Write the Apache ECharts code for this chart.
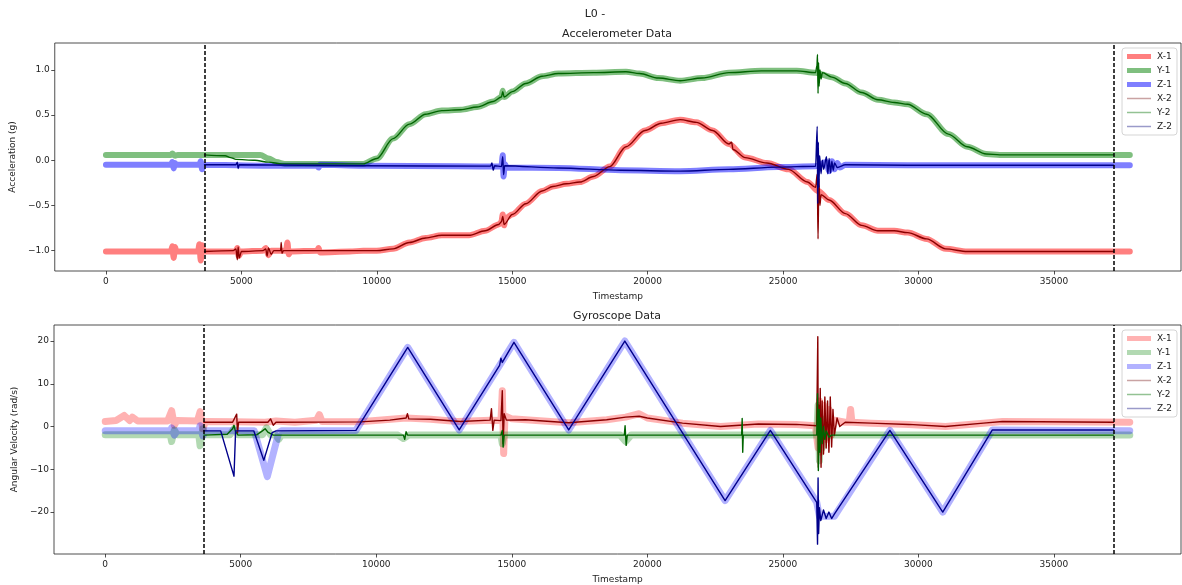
<!DOCTYPE html>
<html><head><meta charset="utf-8">
<script src="https://cdn.jsdelivr.net/npm/echarts@6/dist/echarts.min.js"></script>
<style>html,body{margin:0;padding:0;background:#fff}#c{width:1182px;height:585px}</style>
</head><body><div id="c"></div>
<script>
// ---------- tick labels / markers ----------
const xTicks = [0, 5000, 10000, 15000, 20000, 25000, 30000, 35000];
const accTicks = [-1.0, -0.5, 0.0, 0.5, 1.0];
const gyroTicks = [-20, -10, 0, 10, 20];
const markers = [3640, 37200];
const seriesNames = ['X-1', 'Y-1', 'Z-1', 'X-2', 'Y-2', 'Z-2'];

// ---------- accelerometer (g) ----------
const accX1 = [[0,-1.01],[1200,-1.01],[2400,-1.01],[2450,-0.95],[2500,-1.08],[2550,-0.96],[2600,-1.01],[3400,-1.01],[3450,-0.93],[3500,-1.11],[3550,-0.94],[3600,-1.01],[4800,-1.01],[4850,-0.97],[4900,-1.06],[5000,-1.01],[5800,-1.0],[5900,-0.97],[6000,-1.05],[6100,-1.0],[6650,-1.0],[6700,-0.91],[6750,-1.04],[6800,-1.01],[7800,-1.0],[7850,-0.97],[7900,-1.02],[9000,-1.01],[9500,-1.0],[10000,-1.0],[10600,-0.98],[11200,-0.91],[11800,-0.86],[12400,-0.83],[13400,-0.83],[14000,-0.78],[14500,-0.71],[14600,-0.68],[14650,-0.6],[14700,-0.72],[14750,-0.64],[15000,-0.6],[15500,-0.48],[16100,-0.34],[16500,-0.29],[17000,-0.26],[17500,-0.24],[18000,-0.18],[18600,-0.07],[19200,0.15],[19900,0.33],[20500,0.41],[21200,0.45],[21800,0.42],[22400,0.33],[23000,0.18],[23600,0.03],[24400,-0.03],[25200,-0.1],[25900,-0.24],[26300,-0.34],[26700,-0.44],[27300,-0.59],[27900,-0.72],[28500,-0.78],[29100,-0.78],[29600,-0.8],[30300,-0.87],[31000,-0.98],[31800,-1.01],[37800,-1.01]];
const accY1 = [[0,0.06],[2400,0.06],[2450,0.075],[2550,0.05],[2650,0.06],[3500,0.06],[5700,0.06],[6000,0.02],[6300,-0.02],[6600,-0.04],[9500,-0.04],[10000,0.02],[10600,0.24],[11200,0.40],[11800,0.51],[12400,0.55],[13100,0.56],[13700,0.59],[14300,0.65],[14600,0.7],[14650,0.77],[14700,0.7],[15000,0.76],[15500,0.85],[16100,0.93],[16700,0.96],[18000,0.97],[19200,0.98],[19700,0.96],[20400,0.91],[21200,0.88],[22000,0.91],[23000,0.97],[24200,0.99],[25500,0.99],[26200,0.97],[26800,0.92],[27300,0.85],[27900,0.75],[28500,0.67],[29100,0.64],[29600,0.62],[30300,0.51],[31100,0.29],[31800,0.15],[32500,0.07],[33000,0.06],[37800,0.06]];
const accZ1 = [[0,-0.05],[2400,-0.05],[2450,-0.02],[2500,-0.09],[2550,-0.03],[2600,-0.05],[3450,-0.05],[3500,-0.01],[3550,-0.1],[3600,-0.05],[6000,-0.06],[7800,-0.06],[7850,-0.08],[7900,-0.05],[9500,-0.06],[13000,-0.066],[14600,-0.07],[14650,0.055],[14680,-0.18],[14720,-0.04],[14800,-0.08],[16700,-0.085],[19000,-0.11],[21200,-0.12],[23000,-0.1],[24800,-0.075],[26200,-0.066],[26600,-0.02],[26700,-0.12],[26800,-0.01],[26900,-0.1],[27000,-0.03],[27100,-0.08],[27300,-0.05],[29600,-0.055],[37800,-0.055]];
const accX2 = [[3640,-1.01],[4700,-1.0],[4800,-0.98],[4850,-1.1],[4880,-0.96],[4920,-1.08],[5000,-1.01],[5800,-1.0],[5900,-0.98],[5950,-1.06],[6000,-0.97],[6100,-1.04],[6200,-1.0],[6450,-1.0],[6470,-0.91],[6500,-1.03],[6550,-1.0],[9500,-1.0],[10000,-1.0],[10600,-0.98],[11200,-0.91],[11800,-0.86],[12400,-0.83],[13400,-0.83],[14000,-0.78],[14500,-0.71],[14600,-0.68],[14650,-0.62],[14700,-0.71],[15000,-0.6],[15500,-0.48],[16100,-0.34],[16500,-0.29],[17000,-0.26],[17500,-0.24],[18000,-0.18],[18600,-0.07],[19200,0.15],[19900,0.33],[20500,0.41],[21200,0.45],[21800,0.42],[22400,0.33],[23000,0.18],[23100,0.2],[23150,0.12],[23600,0.03],[24400,-0.03],[25200,-0.1],[25900,-0.24],[26200,-0.3],[26260,-0.15],[26290,-0.87],[26320,-0.2],[26360,-0.5],[26400,-0.38],[26700,-0.44],[27300,-0.59],[27900,-0.72],[28500,-0.78],[29100,-0.78],[29600,-0.8],[30300,-0.87],[31000,-0.98],[31800,-1.01],[37200,-1.01]];
const accY2 = [[3640,0.06],[4400,0.05],[4600,0.03],[4800,0.01],[5500,0.0],[6000,-0.02],[6500,-0.04],[9500,-0.04],[10000,0.02],[10600,0.24],[11200,0.40],[11800,0.51],[12400,0.55],[13100,0.56],[13700,0.59],[14300,0.65],[14600,0.7],[14650,0.76],[14700,0.7],[15000,0.76],[15500,0.85],[16100,0.93],[16700,0.96],[18000,0.97],[19200,0.98],[19700,0.96],[20400,0.91],[21200,0.88],[22000,0.91],[23000,0.97],[24200,0.99],[25500,0.99],[26200,0.97],[26250,1.05],[26270,1.17],[26290,0.74],[26310,1.08],[26330,0.82],[26360,1.0],[26400,0.9],[26450,0.97],[26800,0.92],[27300,0.85],[27900,0.75],[28500,0.67],[29100,0.64],[29600,0.62],[30300,0.51],[31100,0.29],[31800,0.15],[32500,0.07],[33000,0.06],[37200,0.06]];
const accZ2 = [[3640,-0.05],[4800,-0.05],[4850,-0.02],[4880,-0.09],[4920,-0.05],[9500,-0.06],[14200,-0.065],[14250,-0.03],[14300,-0.11],[14350,-0.06],[14600,-0.07],[14650,0.04],[14680,-0.16],[14720,-0.06],[16700,-0.085],[19000,-0.11],[21200,-0.12],[23000,-0.1],[24800,-0.075],[26200,-0.066],[26260,0.375],[26280,-0.48],[26300,0.2],[26320,-0.3],[26350,0.05],[26400,-0.15],[26450,0.0],[26500,-0.1],[26600,0.04],[26650,-0.15],[26700,0.02],[26750,-0.14],[26800,-0.01],[26850,-0.11],[26900,-0.03],[27000,-0.08],[27300,-0.05],[29600,-0.055],[37200,-0.055]];

// ---------- gyroscope (rad/s) ----------
const gyrX1 = [[0,1.2],[400,1.4],[700,2.6],[900,1.4],[1000,2.2],[1200,1.3],[2300,1.3],[2450,3.7],[2550,0.3],[2650,1.4],[3400,1.3],[3500,3.5],[3600,-0.5],[3700,1.2],[4800,1.1],[5900,1.0],[6300,1.3],[7000,1.0],[7800,1.5],[7900,2.8],[8000,1.2],[9400,1.1],[11100,2.0],[12000,1.7],[13000,1.2],[14200,1.5],[14600,1.4],[14650,8.4],[14700,-6.3],[14750,2.5],[15000,1.8],[15500,1.6],[17100,0.9],[18500,1.6],[19200,2.2],[19700,3.0],[20000,2.0],[21300,0.8],[22700,0.0],[24100,0.6],[25500,0.5],[26200,0.2],[26300,-5],[26350,6],[26400,-6],[26500,5],[26600,-3],[26700,4],[26800,-2],[26900,1.5],[27300,1.0],[27450,1.0],[27500,4.0],[27550,1.0],[28250,0.8],[29650,0.5],[31000,0.0],[32400,0.8],[33100,1.2],[37800,1.0]];
const gyrY1 = [[0,-1.9],[2400,-1.9],[2450,-3.5],[2550,-0.8],[2650,-1.9],[3450,-1.9],[3500,-4.5],[3600,-0.5],[3700,-1.9],[4600,-1.9],[4750,-0.5],[4900,-1.9],[5800,-1.9],[5950,-0.3],[6100,-1.9],[6300,-2.0],[6400,-3.0],[6500,-2.0],[10800,-2.0],[11000,-2.8],[11200,-2.0],[14600,-2.0],[14650,-4.0],[14700,-2.0],[19000,-2.0],[19200,-3.5],[19400,-2.0],[26250,-2.0],[26300,5],[26350,-8],[26400,2],[26450,-5],[26500,-1.5],[26600,-2.5],[26700,-2.0],[37800,-2.0]];
const gyrZ1 = [[0,-1.0],[2400,-1.0],[2450,-0.3],[2550,-2.0],[2650,-1.0],[3450,-1.0],[3500,0.2],[3600,-2.2],[3700,-1.0],[5500,-1.0],[5980,-11.7],[6400,-1.4],[6500,-1.0],[9250,-0.9],[11160,18.5],[13060,-0.8],[15080,19.7],[17100,-0.8],[19170,20.0],[22870,-17.3],[24540,-0.9],[26250,-17.7],[26350,-21.0],[26900,-21.0],[28950,-0.9],[30900,-20.0],[32730,-0.8],[37800,-1.0]];
const gyrX2 = [[3640,1.0],[4700,1.0],[4850,2.9],[4880,-1.5],[4920,1.0],[6000,1.0],[6100,1.8],[6200,0.3],[6300,1.0],[9400,1.1],[10500,1.5],[11100,2.0],[11150,3.0],[11200,1.8],[12000,1.7],[13100,1.2],[14200,1.5],[14250,4.2],[14300,-0.9],[14350,1.5],[14600,1.4],[14650,8.4],[14680,-4.0],[14720,3.0],[14800,1.5],[15500,1.6],[17100,0.9],[18500,1.6],[19200,2.2],[19700,2.4],[20000,2.0],[21300,0.8],[22700,0.0],[24100,0.6],[25500,0.5],[26250,0.2],[26290,21.0],[26310,-9.5],[26330,5],[26350,-4],[26380,8.9],[26410,-9.5],[26450,6],[26500,-6.4],[26550,6.9],[26600,-5],[26650,6],[26700,-6],[26750,6.9],[26800,-4.8],[26850,4],[26900,-2],[27000,2],[27100,0],[27300,1.0],[28250,0.8],[29650,0.5],[31000,0.0],[32400,0.8],[33100,1.2],[37200,1.0]];
const gyrY2 = [[3640,-2.0],[4500,-1.8],[4700,-0.5],[4750,0.3],[4800,-1.0],[4900,-2.0],[5600,-1.9],[5800,-1.0],[5900,-0.5],[6000,-1.3],[6200,-2.0],[11000,-2.0],[11050,-3.0],[11100,-1.2],[11150,-2.0],[14600,-2.0],[14650,-0.9],[14680,-4.8],[14720,-2.0],[19150,-2.0],[19180,0.2],[19220,-4.4],[19260,-2.0],[23480,-2.0],[23500,1.9],[23520,-6.0],[23540,-2.0],[26250,-2.0],[26280,7.7],[26310,-10.3],[26340,4],[26370,-6],[26400,2],[26450,-4],[26500,0],[26550,-3],[26600,-1],[26700,-2.5],[26800,-2.0],[37200,-2.0]];
const gyrZ2 = [[3640,-1.0],[4260,-1.0],[4750,-11.6],[4810,-1.0],[5480,-1.0],[5850,-7.9],[6160,-1.4],[6300,-1.0],[9250,-0.9],[11160,18.5],[13060,-0.8],[14550,14.3],[14600,16.0],[14650,15.0],[15080,19.7],[17100,-0.8],[19170,20.0],[22870,-17.3],[24540,-0.9],[26250,-17.7],[26280,-27.5],[26300,-12.0],[26320,-25.0],[26350,-19.0],[26400,-22.0],[26500,-19.5],[26600,-21.5],[26700,-20.0],[26800,-21.5],[26900,-20.5],[28950,-0.9],[30900,-20.0],[32730,-0.8],[37200,-0.8]];

// ---------- styling ----------
const FONT = 'DejaVu Sans';
const accThickCol = ['rgba(255,0,0,0.5)', 'rgba(0,128,0,0.5)', 'rgba(0,0,255,0.5)'];
const gyrThickCol = ['rgba(255,0,0,0.3)', 'rgba(0,128,0,0.3)', 'rgba(0,0,255,0.3)'];
const thinCol = ['#8b0000', '#006400', '#00008b'];
const thinLegendCol = ['#c9a3a3', '#93c293', '#9a9ac9'];

const minus = s => s.replace('-', '\u2212');
function mkSeries(name, data, grid, color, width, smooth) {
  return {
    type: 'line', name, data, xAxisIndex: grid, yAxisIndex: grid,
    symbol: 'none', showSymbol: false, silent: true, animation: false,
    smooth: smooth, smoothMonotone: 'x',
    lineStyle: { color, width, join: 'round', cap: 'round' },
    itemStyle: { color },
    emphasis: { disabled: true }
  };
}
const accData = [accX1, accY1, accZ1, accX2, accY2, accZ2];
const gyrData = [gyrX1, gyrY1, gyrZ1, gyrX2, gyrY2, gyrZ2];
const series = [];
seriesNames.forEach((n, i) => {
  const thick = i < 3;
  series.push(mkSeries(n, accData[i], 0, thick ? accThickCol[i] : thinCol[i - 3], thick ? 6 : 1.4, 0.3));
});
seriesNames.forEach((n, i) => {
  const thick = i < 3;
  series.push(mkSeries(n, gyrData[i], 1, thick ? gyrThickCol[i] : thinCol[i - 3], thick ? 7 : 1.4, false));
});
// dashed vertical markers
[0, 1].forEach(g => {
  series.push({
    type: 'line', data: [], xAxisIndex: g, yAxisIndex: g, silent: true,
    markLine: {
      silent: true, symbol: ['none', 'none'], label: { show: false }, animation: false,
      lineStyle: { color: '#000', type: [4, 2], width: 1.5 },
      data: markers.map(m => ({ xAxis: m }))
    }
  });
});

function legendCfg(top, cols) {
  return {
    orient: 'vertical', right: 5, top, itemWidth: 24, itemHeight: 6, itemGap: 5,
    padding: [4, 5, 4, 5], borderColor: '#d5d5d5', borderWidth: 1, borderRadius: 3,
    backgroundColor: 'rgba(255,255,255,0.85)', selectedMode: false, symbolKeepAspect: true,
    textStyle: { fontFamily: FONT, fontSize: 9, color: '#222', padding: [0, 0, 0, 1] },
    data: seriesNames.map((n, i) => i < 3
      ? { name: n, icon: 'path://M0,0L24,0L24,5L0,5Z', itemStyle: { color: cols[i], opacity: 1 } }
      : { name: n, icon: 'path://M0,0L24,0L24,1.5L0,1.5Z', itemStyle: { color: thinLegendCol[i - 3], opacity: 1 } })
  };
}

function xAxisCfg(g) {
  return {
    type: 'value', gridIndex: g, min: -1890, max: 39690,
    name: 'Timestamp', nameLocation: 'middle', nameGap: 21,
    nameTextStyle: { fontFamily: FONT, fontSize: 9, color: '#222' },
    axisLine: { show: false, onZero: false }, splitLine: { show: false },
    axisTick: { show: true, inside: false, length: 3.5, lineStyle: { color: '#222', width: 0.8 }, customValues: xTicks },
    axisLabel: { fontFamily: FONT, fontSize: 9, color: '#222', margin: 6, customValues: xTicks, formatter: v => String(v) }
  };
}
function yAxisCfg(g, min, max, ticks, name, fmt, gap) {
  return {
    type: 'value', gridIndex: g, min, max,
    name, nameLocation: 'middle', nameGap: gap, nameRotate: 90,
    nameTextStyle: { fontFamily: FONT, fontSize: 9, color: '#222' },
    axisLine: { show: false, onZero: false }, splitLine: { show: false },
    axisTick: { show: true, inside: false, length: 3.5, lineStyle: { color: '#222', width: 0.8 }, customValues: ticks },
    axisLabel: { fontFamily: FONT, fontSize: 9, color: '#222', margin: 5, customValues: ticks, formatter: fmt }
  };
}

const chart = echarts.init(document.getElementById('c'), null, { renderer: 'canvas' });
chart.setOption({
  animation: false,
  backgroundColor: '#fff',
  grid: [
    { left: 54, top: 43, right: 1, height: 228, show: true, borderColor: '#222', borderWidth: 0.8, backgroundColor: 'transparent' },
    { left: 54, top: 325, right: 1, height: 229, show: true, borderColor: '#222', borderWidth: 0.8, backgroundColor: 'transparent' }
  ],
  xAxis: [xAxisCfg(0), xAxisCfg(1)],
  yAxis: [
    yAxisCfg(0, -1.225, 1.298, accTicks, 'Acceleration (g)', v => minus(v.toFixed(1)), 33),
    yAxisCfg(1, -29.8, 23.75, gyroTicks, 'Angular Velocity (rad/s)', v => minus(String(Math.round(v))), 30)
  ],
  legend: [legendCfg(48, accThickCol), legendCfg(330, gyrThickCol)],
  graphic: [
    { type: 'text', x: 595, y: 14, style: { text: 'L0 -', font: '11px "DejaVu Sans"', fill: '#222', textAlign: 'center', textVerticalAlign: 'middle' } },
    { type: 'text', x: 617, y: 34, style: { text: 'Accelerometer Data', font: '11px "DejaVu Sans"', fill: '#222', textAlign: 'center', textVerticalAlign: 'middle' } },
    { type: 'text', x: 617, y: 316, style: { text: 'Gyroscope Data', font: '11px "DejaVu Sans"', fill: '#222', textAlign: 'center', textVerticalAlign: 'middle' } }
  ],
  series
});
</script></body></html>
